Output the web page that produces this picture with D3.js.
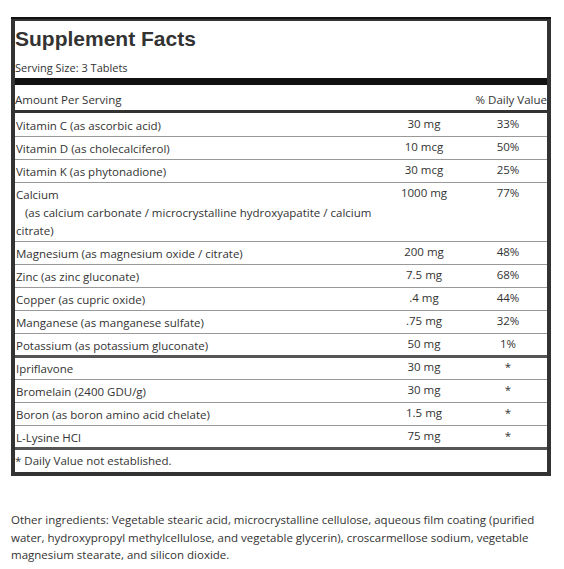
<!DOCTYPE html>
<html><head><meta charset="utf-8">
<script src="https://cdn.jsdelivr.net/npm/d3@7"></script>
<style>body{margin:0;background:#fff}</style>
</head><body><svg width="564" height="569"></svg>
<script>
const names = [
  ['Vitamin C (as ascorbic acid)'],
  ['Vitamin D (as cholecalciferol)'],
  ['Vitamin K (as phytonadione)'],
  ['Calcium', '   (as calcium carbonate / microcrystalline hydroxyapatite / calcium', 'citrate)'],
  ['Magnesium (as magnesium oxide / citrate)'],
  ['Zinc (as zinc gluconate)'],
  ['Copper (as cupric oxide)'],
  ['Manganese (as manganese sulfate)'],
  ['Potassium (as potassium gluconate)'],
  ['Ipriflavone'],
  ['Bromelain (2400 GDU/g)'],
  ['Boron (as boron amino acid chelate)'],
  ['L-Lysine HCl']
]
const amounts = ['30 mg', '10 mcg', '30 mcg', '1000 mg', '200 mg', '7.5 mg', '.4 mg', '.75 mg', '50 mg', '30 mg', '30 mg', '1.5 mg', '75 mg']
const dailyValues = ['33%', '50%', '25%', '77%', '48%', '68%', '44%', '32%', '1%', '*', '*', '*', '*']
const groupBreakAfter = 8
const otherIngredients = [
  'Other ingredients: Vegetable stearic acid, microcrystalline cellulose, aqueous film coating (purified',
  'water, hydroxypropyl methylcellulose, and vegetable glycerin), croscarmellose sodium, vegetable',
  'magnesium stearate, and silicon dioxide.'
]

const svg = d3.select('svg')
const font = '"Open Sans", "Noto Sans", sans-serif'
const ink = '#333'
const L = 11, R = 551, T = 17
const txt = (x, y, s, attrs = {}) => svg.append('text').attr('x', x).attr('y', y)
  .attr('font-family', font).attr('font-size', 11.5).attr('fill', ink)
  .attr('xml:space', 'preserve').text(s).attr('font-weight', attrs.weight || null)
  .attr('font-size', attrs.size || 11.5).attr('text-anchor', attrs.anchor || 'start')

txt(15, 46, 'Supplement Facts', { size: 21, weight: 'bold' }).attr('font-family', 'Liberation Sans, Arial, sans-serif')
txt(15, 72, 'Serving Size: 3 Tablets', { size: 11 })
svg.append('rect').attr('x', L).attr('y', 78).attr('width', R - L).attr('height', 7).attr('fill', '#111')
txt(15, 104, 'Amount Per Serving')
txt(547, 104, '% Daily Value', { anchor: 'end' })
svg.append('rect').attr('x', L).attr('y', 110).attr('width', R - L).attr('height', 3).attr('fill', ink)

const rowH = 23, lineH = 18
let y = 114
const tops = names.map((n, i) => {
  const t = y
  y += rowH + (n.length - 1) * lineH
  if (i === groupBreakAfter) y += 0
  return t
})
const amtX = 424, dvX = 508
names.forEach((n, i) => {
  const top = tops[i]
  n.forEach((s, j) => txt(16, top + 16 + j * lineH, s))
  txt(amtX, top + 14, amounts[i], { anchor: 'middle' })
  txt(dvX, top + 14, dailyValues[i], { anchor: 'middle' })
  const bottom = i < names.length - 1 ? tops[i + 1] : y
  const thick = i === groupBreakAfter || i === names.length - 1
  svg.append('rect').attr('x', 14).attr('y', bottom - (thick ? 2 : 1)).attr('width', R - L - 6)
    .attr('height', thick ? 3 : 1).attr('fill', thick ? '#555' : '#999')
})
txt(15, y + 16, '* Daily Value not established.')
const bottom = y + 27
svg.append('rect').attr('x', L + 2).attr('y', T + 2).attr('width', R - L - 4).attr('height', bottom - T - 4)
  .attr('fill', 'none').attr('stroke', ink).attr('stroke-width', 4)
svg.append('rect').attr('x', L).attr('y', T).attr('width', R - L).attr('height', 2).attr('fill', '#111')

otherIngredients.forEach((s, i) => txt(11, 524 + i * 17.5, s))
</script></body></html>
